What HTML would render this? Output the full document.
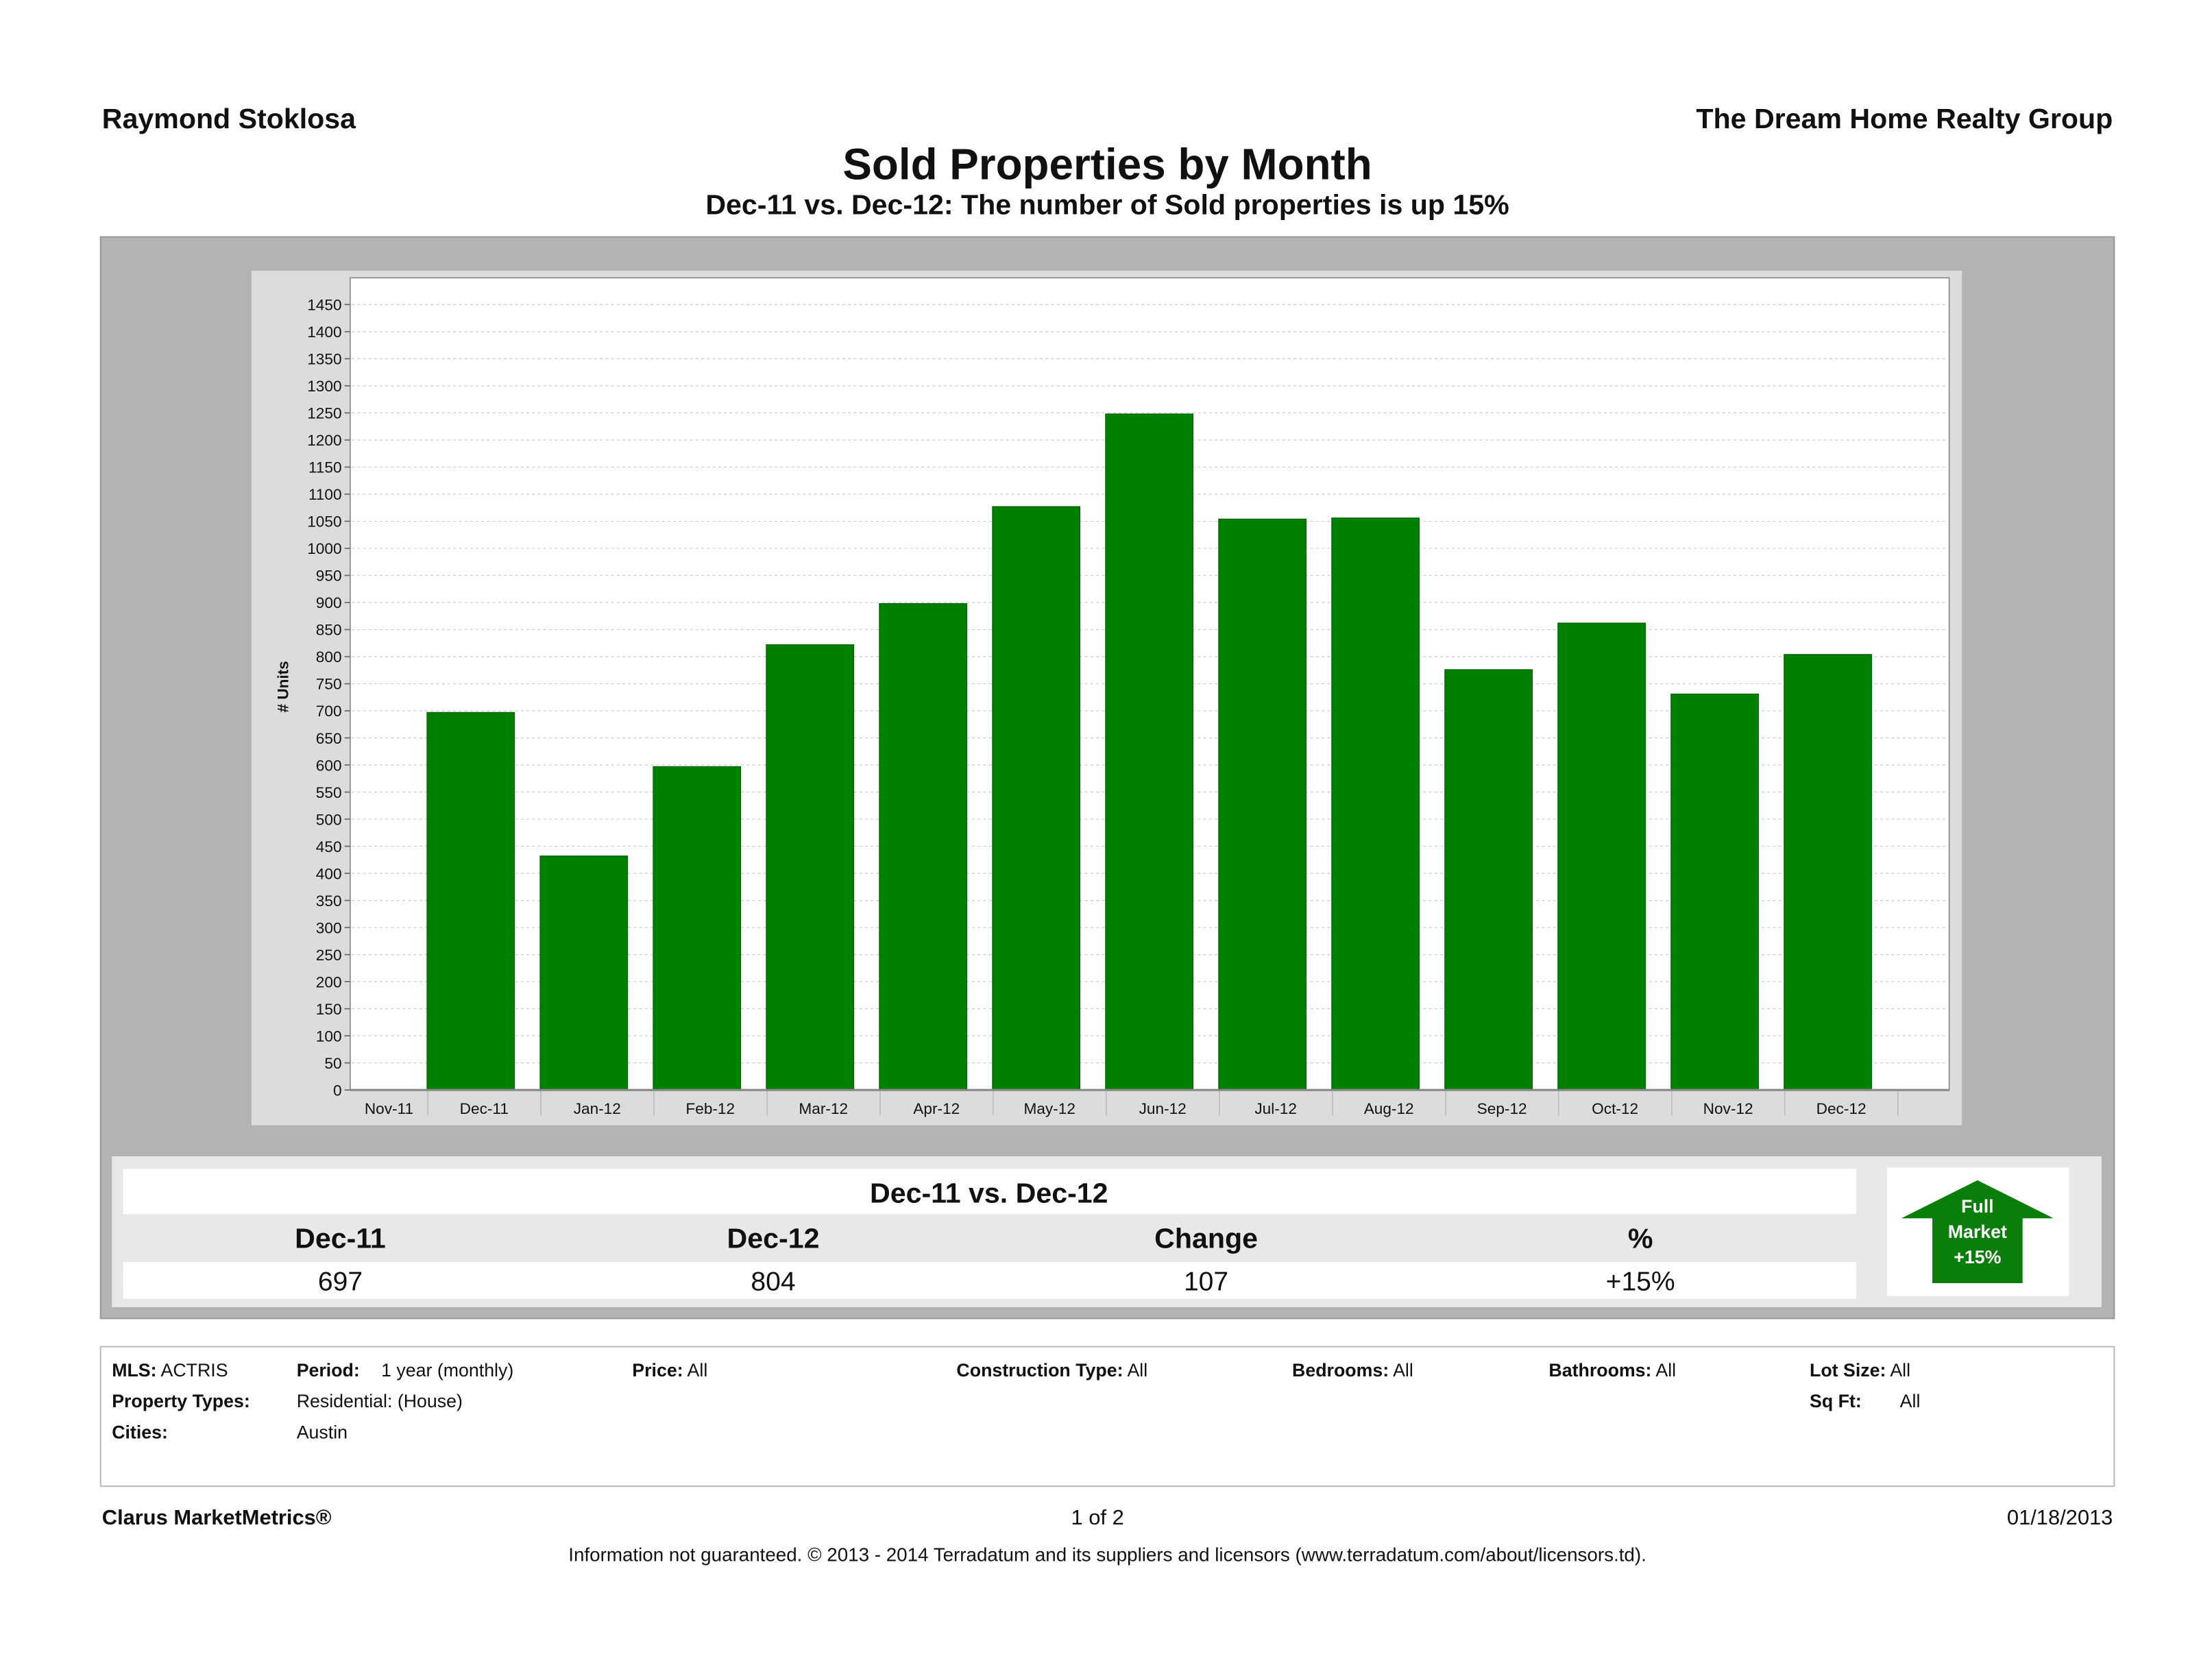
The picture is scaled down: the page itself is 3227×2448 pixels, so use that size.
<!DOCTYPE html>
<html><head><meta charset="utf-8">
<style>
html,body{margin:0;padding:0;background:#fff;}
svg{display:block;font-family:"Liberation Sans",sans-serif;}
</style></head>
<body>
<svg id="page" width="3227" height="2448" viewBox="0 0 1568 1190" xmlns="http://www.w3.org/2000/svg">
<rect x="0" y="0" width="1568" height="1190" fill="#fff"/>
<text x="72" y="91" font-size="20" font-weight="bold" fill="#111">Raymond Stoklosa</text>
<text x="1498" y="91" font-size="20" font-weight="bold" fill="#111" text-anchor="end">The Dream Home Realty Group</text>
<text x="785" y="127" font-size="31" font-weight="bold" fill="#111" text-anchor="middle">Sold Properties by Month</text>
<text x="785" y="152" font-size="20" font-weight="bold" fill="#111" text-anchor="middle">Dec-11 vs. Dec-12: The number of Sold properties is up 15%</text>

<rect x="71" y="168" width="1428" height="767" fill="#b3b3b3" stroke="#999" stroke-width="1"/>
<rect x="178" y="192" width="1213" height="606" fill="#dcdcdc"/>
<rect x="248" y="197" width="1134" height="576" fill="#fff" stroke="#999" stroke-width="1"/>
<g id="grid"></g>
<g id="bars"></g>
<g id="yaxis"></g>
<g id="xaxis"></g>
<text transform="translate(204,487) rotate(-90)" font-size="11" font-weight="bold" fill="#111" text-anchor="middle"># Units</text>

<rect x="79" y="820" width="1411" height="107" fill="#e8e8e8"/>
<rect x="87" y="829" width="1229" height="32" fill="#fff"/>
<text x="701" y="853" font-size="20" font-weight="bold" fill="#111" text-anchor="middle">Dec-11 vs. Dec-12</text>
<text x="241" y="885" font-size="20" font-weight="bold" fill="#111" text-anchor="middle">Dec-11</text>
<text x="548" y="885" font-size="20" font-weight="bold" fill="#111" text-anchor="middle">Dec-12</text>
<text x="855" y="885" font-size="20" font-weight="bold" fill="#111" text-anchor="middle">Change</text>
<text x="1163" y="885" font-size="20" font-weight="bold" fill="#111" text-anchor="middle">%</text>
<rect x="87" y="895" width="1229" height="26" fill="#fff"/>
<text x="241" y="915" font-size="19" fill="#111" text-anchor="middle">697</text>
<text x="548" y="915" font-size="19" fill="#111" text-anchor="middle">804</text>
<text x="855" y="915" font-size="19" fill="#111" text-anchor="middle">107</text>
<text x="1163" y="915" font-size="19" fill="#111" text-anchor="middle">+15%</text>
<rect x="1338" y="828" width="129" height="91" fill="#fff"/>
<polygon points="1402,837 1456,864 1434,864 1434,910 1370,910 1370,864 1348,864" fill="#0b7d0b"/>
<text x="1402" y="860" font-size="13" font-weight="bold" fill="#fff" text-anchor="middle">Full</text>
<text x="1402" y="878" font-size="13" font-weight="bold" fill="#fff" text-anchor="middle">Market</text>
<text x="1402" y="896" font-size="13" font-weight="bold" fill="#fff" text-anchor="middle">+15%</text>

<rect x="71" y="955" width="1428" height="99" fill="#fff" stroke="#bbb" stroke-width="1"/>
<g font-size="13" fill="#111">
<text x="79" y="976"><tspan font-weight="bold">MLS:</tspan> ACTRIS</text>
<text x="210" y="976" font-weight="bold">Period:</text>
<text x="270" y="976">1 year (monthly)</text>
<text x="448" y="976"><tspan font-weight="bold">Price:</tspan>   All</text>
<text x="678" y="976"><tspan font-weight="bold">Construction Type:</tspan> All</text>
<text x="916" y="976"><tspan font-weight="bold">Bedrooms:</tspan>  All</text>
<text x="1098" y="976"><tspan font-weight="bold">Bathrooms:</tspan> All</text>
<text x="1283" y="976"><tspan font-weight="bold">Lot Size:</tspan> All</text>
<text x="79" y="998" font-weight="bold">Property Types:</text>
<text x="210" y="998">Residential: (House)</text>
<text x="1283" y="998" font-weight="bold">Sq Ft:</text>
<text x="1347" y="998">All</text>
<text x="79" y="1020" font-weight="bold">Cities:</text>
<text x="210" y="1020">Austin</text>
</g>
<text x="72" y="1081" font-size="15" font-weight="bold" fill="#111">Clarus MarketMetrics®</text>
<text x="778" y="1081" font-size="15" fill="#111" text-anchor="middle">1 of 2</text>
<text x="1498" y="1081" font-size="15" fill="#111" text-anchor="end">01/18/2013</text>
<text x="785" y="1107" font-size="13.5" fill="#111" text-anchor="middle">Information not guaranteed.  © 2013 - 2014 Terradatum and its suppliers and licensors (www.terradatum.com/about/licensors.td).</text>
</svg>
<script>
const categories = ["Nov-11","Dec-11","Jan-12","Feb-12","Mar-12","Apr-12","May-12","Jun-12","Jul-12","Aug-12","Sep-12","Oct-12","Nov-12","Dec-12"];
const soldUnits = [0,697,432,597,822,898,1077,1248,1054,1056,776,862,731,804];
const yTicks = [0,50,100,150,200,250,300,350,400,450,500,550,600,650,700,750,800,850,900,950,1000,1050,1100,1150,1200,1250,1300,1350,1400,1450];

const NS = "http://www.w3.org/2000/svg";
const plotL = 248, plotR = 1382, y0px = 773, yTopPx = 216, yTopVal = 1450;
const bandW = 80.2, firstBand = 222.8;
function yScale(v){ return y0px - v * (y0px - yTopPx) / yTopVal; }
function bandLeft(i){ return firstBand + i * bandW; }
function mk(tag, attrs){ const e = document.createElementNS(NS, tag); for (const k in attrs) e.setAttribute(k, attrs[k]); return e; }

const grid = document.getElementById('grid');
const yaxis = document.getElementById('yaxis');
yTicks.forEach(function(t){
  const y = yScale(t);
  if (t > 0) {
    const g = mk('line', {x1: plotL+1, x2: plotR-1, y1: y, y2: y, stroke: '#ccc', 'stroke-width': 0.6, 'stroke-dasharray': '2,2'});
    
    
    grid.appendChild(g);
  }
  const tk = mk('line', {x1: plotL-4, x2: plotL, y1: y, y2: y, stroke: '#666', 'stroke-width': 0.8});
  
  
  yaxis.appendChild(tk);
  const tx = mk('text', {x: plotL-6, y: y+4, 'font-size': 11, fill: '#111', 'text-anchor': 'end'});
  
  
  tx.textContent = t;
  yaxis.appendChild(tx);
});

const bars = document.getElementById('bars');
const xaxis = document.getElementById('xaxis');
categories.forEach(function(c, i){
  const bl = bandLeft(i);
  const v = soldUnits[i];
  if (v > 0) {
    const x = Math.max(bl - 0.5, plotL);
    const r = mk('rect', {x: x, y: yScale(v), width: 62, height: y0px - yScale(v), fill: '#008000', stroke: '#046004', 'stroke-width': 0.6});
    
    
    bars.appendChild(r);
  }
  const sep = bl + bandW;
  const s = mk('line', {x1: sep, x2: sep, y1: y0px, y2: y0px + 18, stroke: '#bbb', 'stroke-width': 0.8});
  
  
  xaxis.appendChild(s);
  const lx = i === 0 ? (plotL + sep) / 2 : bl + 40;
  const t = mk('text', {x: lx, y: y0px + 17, 'font-size': 11, fill: '#111', 'text-anchor': 'middle'});
  
  
  t.textContent = c;
  xaxis.appendChild(t);
});
const ax = mk('line', {x1: plotL, x2: plotR, y1: y0px, y2: y0px, stroke: '#888', 'stroke-width': 1.5});


xaxis.appendChild(ax);
</script>
</body></html>
